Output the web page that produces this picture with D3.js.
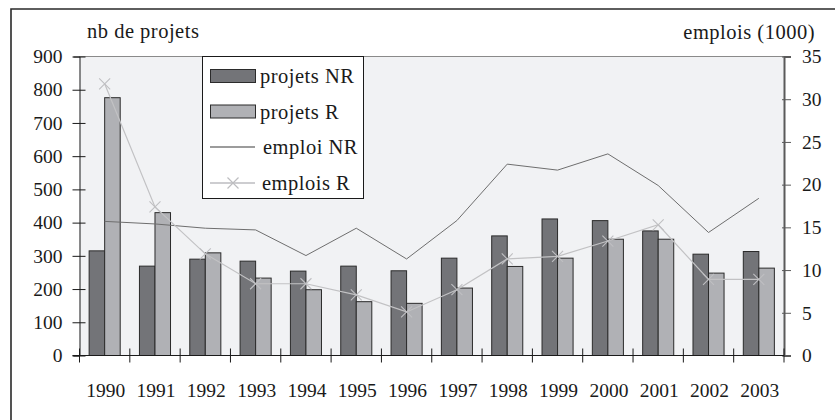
<!DOCTYPE html>
<html>
<head>
<meta charset="utf-8">
<script src="https://cdn.jsdelivr.net/npm/d3@7"></script>
</head>
<body style="margin:0;background:#fff">
<svg id="chart" width="835" height="420" style="display:block"></svg>
<script>
// Projects (left axis) and jobs in thousands (right axis), 1990-2003
const years = ["1990","1991","1992","1993","1994","1995","1996","1997","1998","1999","2000","2001","2002","2003"];
const projetsNR = [315, 269, 290, 284, 254, 269, 255, 293, 360, 411, 406, 375, 305, 313];
const projetsR  = [776, 430, 309, 233, 198, 162, 157, 203, 268, 293, 350, 350, 248, 263];
const emploiNR  = [15.7, 15.4, 14.9, 14.7, 11.7, 14.9, 11.3, 15.8, 22.4, 21.7, 23.6, 19.9, 14.4, 18.4];
const emploisR  = [31.8, 17.4, 11.9, 8.4, 8.4, 7.1, 5.1, 7.7, 11.3, 11.6, 13.4, 15.3, 8.9, 8.9];
const leftTicks  = [0, 100, 200, 300, 400, 500, 600, 700, 800, 900];
const rightTicks = [0, 5, 10, 15, 20, 25, 30, 35];
const legendLabels = ["projets NR", "projets R", "emploi NR", "emplois R"];

const FONT = "'Liberation Serif', 'Times New Roman', serif";
const tickSize = 19.5;
const labelSize = 20.5;
const ink = "#1a1a1a";

// apply the serif face straight onto text nodes
const serif = (sel, size) => sel
  .attr("font-family", FONT)
  .style("font-family", FONT, "important")
  .style("font-size", size + "px", "important")
  .attr("fill", ink);

const svg = d3.select("#chart");
const plot = { left: 79.5, right: 784, top: 56.5, bottom: 355.5 };

const x = d3.scaleBand().domain(years).range([plot.left, plot.right]);
const yL = d3.scaleLinear().domain([0, 900]).range([plot.bottom, plot.top]);
const yR = d3.scaleLinear().domain([0, 35]).range([plot.bottom, plot.top]);
const inner = d3.scaleBand().domain(["NR", "R"]).range([0, x.bandwidth()]).paddingOuter(0.62).paddingInner(0);

// outer frame (left and top edges)
svg.append("path").attr("d", "M11,420 V9 H835")
  .attr("fill", "none").attr("stroke", "#2a2a2a").attr("stroke-width", 1.6);

// plot background
svg.append("rect")
  .attr("x", plot.left).attr("y", plot.top)
  .attr("width", plot.right - plot.left).attr("height", plot.bottom - plot.top)
  .attr("fill", "#f1f2f4");
svg.append("line")
  .attr("x1", plot.left).attr("x2", plot.right).attr("y1", plot.top).attr("y2", plot.top)
  .attr("stroke", "#8a8a8a").attr("stroke-width", 1);

// bars
const barColors = { NR: "#737478", R: "#b0b1b5" };
[["NR", projetsNR], ["R", projetsR]].forEach(([key, vals]) => {
  svg.append("g").selectAll("rect").data(vals).join("rect")
    .attr("x", (d, i) => x(years[i]) + inner(key))
    .attr("y", d => yL(d))
    .attr("width", inner.bandwidth())
    .attr("height", d => yL(0) - yL(d))
    .attr("fill", barColors[key])
    .attr("stroke", "#2b2b2b").attr("stroke-width", 1);
});

const cx = (d, i) => x(years[i]) + x.bandwidth() / 2;

// emploi NR line
svg.append("path").datum(emploiNR)
  .attr("d", d3.line().x(cx).y(d => yR(d)))
  .attr("fill", "none").attr("stroke", "#6e6e6e").attr("stroke-width", 1);

// emplois R line with x markers
svg.append("path").datum(emploisR)
  .attr("d", d3.line().x(cx).y(d => yR(d)))
  .attr("fill", "none").attr("stroke", "#c2c2c4").attr("stroke-width", 1.2);
const cross = (px, py, s) => `M${px - s},${py - s}L${px + s},${py + s}M${px - s},${py + s}L${px + s},${py - s}`;
svg.append("g").selectAll("path").data(emploisR).join("path")
  .attr("d", (d, i) => cross(cx(d, i), yR(d), 5.5))
  .attr("stroke", "#bfbfc2").attr("stroke-width", 1.1).attr("fill", "none");

// left axis
const axL = svg.append("g").attr("transform", `translate(${plot.left},0)`)
  .call(d3.axisLeft(yL).tickValues(leftTicks).tickSize(6).tickPadding(11).tickFormat(d3.format("d")));
axL.attr("font-family", FONT);
axL.select(".domain").attr("stroke", ink);
axL.selectAll(".tick line").attr("x2", 6).attr("x1", -7).attr("stroke", ink);
serif(axL.selectAll(".tick text"), tickSize);

// right axis
const axR = svg.append("g").attr("transform", `translate(${plot.right},0)`)
  .call(d3.axisRight(yR).tickValues(rightTicks).tickSize(7).tickPadding(11));
axR.attr("font-family", FONT);
axR.select(".domain").attr("stroke", "#5a5a5a").attr("stroke-width", 2);
axR.selectAll(".tick line").attr("stroke", "#5a5a5a").attr("x1", -2);
serif(axR.selectAll(".tick text"), tickSize);

// bottom axis: boundary ticks between categories
const bounds = years.map(y => x(y)).concat([plot.right]);
svg.append("line")
  .attr("x1", plot.left - 7).attr("x2", plot.right).attr("y1", plot.bottom).attr("y2", plot.bottom)
  .attr("stroke", ink);
svg.append("g").selectAll("line").data(bounds).join("line")
  .attr("x1", d => d).attr("x2", d => d)
  .attr("y1", plot.bottom - 7).attr("y2", plot.bottom + 7)
  .attr("stroke", ink);
serif(svg.append("g").selectAll("text").data(years).join("text")
  .attr("x", d => x(d) + x.bandwidth() / 2 + 1)
  .attr("y", 397)
  .attr("text-anchor", "middle")
  .text(d => d), tickSize);

// axis titles
serif(svg.append("text").attr("x", 87).attr("y", 38).attr("letter-spacing", 0.5)
  .text("nb de projets"), labelSize);
serif(svg.append("text").attr("x", 815).attr("y", 39).attr("text-anchor", "end").attr("letter-spacing", 0.5)
  .text("emplois (1000)"), labelSize);

// legend
const lg = svg.append("g");
lg.append("rect").attr("x", 202.5).attr("y", 56.5).attr("width", 161).attr("height", 142)
  .attr("fill", "#fff").attr("stroke", ink).attr("stroke-width", 1);
const rowY = [76, 111.5, 147, 183];
lg.append("rect").attr("x", 210.5).attr("y", rowY[0] - 6.5).attr("width", 45).attr("height", 13)
  .attr("fill", barColors.NR).attr("stroke", "#2b2b2b");
lg.append("rect").attr("x", 210.5).attr("y", rowY[1] - 6.5).attr("width", 45).attr("height", 13)
  .attr("fill", barColors.R).attr("stroke", "#2b2b2b");
lg.append("line").attr("x1", 210).attr("x2", 255).attr("y1", rowY[2]).attr("y2", rowY[2])
  .attr("stroke", "#3a3a3a").attr("stroke-width", 1.2);
lg.append("line").attr("x1", 210).attr("x2", 255).attr("y1", rowY[3]).attr("y2", rowY[3])
  .attr("stroke", "#bdbdc0").attr("stroke-width", 1.4);
lg.append("path").attr("d", cross(233, rowY[3], 5.5)).attr("stroke", "#bdbdc0").attr("stroke-width", 1.2);
const textX = [260, 260, 263, 262];
serif(lg.selectAll("text.lab").data(legendLabels).join("text")
  .attr("class", "lab")
  .attr("x", (d, i) => textX[i])
  .attr("y", (d, i) => rowY[i] + 7)
  .attr("letter-spacing", 0.5)
  .text(d => d), labelSize);
</script>
</body>
</html>
